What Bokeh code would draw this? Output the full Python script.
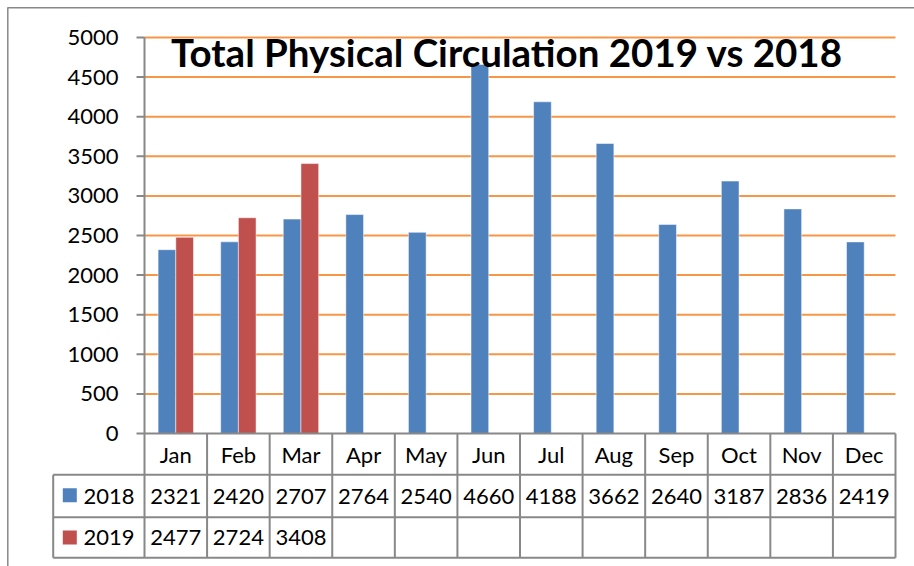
from bokeh.plotting import figure
from bokeh.models import Range1d
from bokeh.core.properties import value
from bokeh.embed import file_html
from bokeh.resources import INLINE

# ---------------- data ----------------
title_text = "Total Physical Circulation 2019 vs 2018"
months = ["Jan", "Feb", "Mar", "Apr", "May", "Jun", "Jul", "Aug", "Sep", "Oct", "Nov", "Dec"]
series_names = ["2018", "2019"]
v2018 = [2321, 2420, 2707, 2764, 2540, 4660, 4188, 3662, 2640, 3187, 2836, 2419]
v2019 = [2477, 2724, 3408]
y_ticks = [0, 500, 1000, 1500, 2000, 2500, 3000, 3500, 4000, 4500, 5000]

# ---------------- styles / layout ----------------
C_BLUE = "#4F81BD"
C_RED = "#C0504D"
C_GRID = "#F79646"
C_LINE = "#888888"
FONT = "Lato"

W, H = 914, 566          # figure size
OX, OY = 0, 0            # page offset of the canvas
AX_L, AX_R = 144, 895    # page x of plot area
Y_ZERO, Y_TOP = 433, 37  # page y of 0 and of top tick
n = len(months)
c = (AX_R - AX_L) / n            # px per category
k = (Y_ZERO - Y_TOP) / y_ticks[-1]  # px per unit


def X(px):
    return (px - AX_L) / c


def Y(py):
    return (Y_ZERO - py) / k


p = figure(width=W, height=H, output_backend="svg", toolbar_location=None,
           x_axis_type=None, y_axis_type=None,
           x_range=Range1d(X(OX), X(OX + W)), y_range=Range1d(Y(OY + H), Y(OY)),
           min_border=0, outline_line_color=None)
p.background_fill_color = "white"
p.border_fill_color = "white"

# chart border (top, left)
p.segment(x0=[X(7), X(7.3)], y0=[Y(7.3), Y(7)],
          x1=[X(OX + W), X(7.3)], y1=[Y(7.3), Y(OY + H)],
          line_color=C_LINE, line_width=1.5)

# horizontal gridlines
gt = y_ticks[1:]
p.segment(x0=[0] * len(gt), y0=gt, x1=[n] * len(gt), y1=gt,
          line_color=C_GRID, line_width=2)

# bars
bw = 17.7 / c
x18 = [i + 0.5 - bw / 2 for i in range(len(v2018))]
x19 = [i + 0.5 + bw / 2 for i in range(len(v2019))]
p.vbar(x=x18, top=v2018, bottom=0, width=bw, fill_color=C_BLUE,
       line_color="white", line_alpha=0.5, line_width=1)
p.vbar(x=x19, top=v2019, bottom=0, width=bw, fill_color=C_RED,
       line_color="white", line_alpha=0.5, line_width=1)

# y axis line, ticks and labels
p.segment(x0=[0], y0=[0], x1=[0], y1=[y_ticks[-1]], line_color=C_LINE, line_width=2)
p.segment(x0=[X(136)] * len(y_ticks), y0=y_ticks, x1=[0] * len(y_ticks), y1=y_ticks,
          line_color=C_LINE, line_width=2)
p.text(x=[X(118)] * len(y_ticks), y=y_ticks, text=[str(t) for t in y_ticks],
       text_align="right", text_baseline="middle", text_font=value(FONT),
       text_font_size="22px", text_color="black")

# data table
r_top, r1, r2, r_bot = 0, Y(474.3), Y(516.7), Y(557.3)
t_left = X(52.7)
p.segment(x0=[0], y0=[0], x1=[n], y1=[0], line_color=C_LINE, line_width=2)
p.segment(x0=[t_left] * 3, y0=[r1, r2, r_bot], x1=[n] * 3, y1=[r1, r2, r_bot],
          line_color=C_LINE, line_width=2)
p.segment(x0=list(range(n + 1)), y0=[r_top] * (n + 1), x1=list(range(n + 1)),
          y1=[r_bot] * (n + 1), line_color=C_LINE, line_width=2)
p.segment(x0=[t_left], y0=[r1], x1=[t_left], y1=[r_bot], line_color=C_LINE, line_width=2)

centers = [i + 0.5 for i in range(n)]
p.text(x=centers, y=[Y(453.5)] * n, text=months, text_align="center",
       text_baseline="middle", text_font=value(FONT), text_font_size="22px",
       text_color="black")
p.text(x=centers, y=[Y(495.5)] * n, text=[str(v) for v in v2018], text_align="center",
       text_baseline="middle", text_font=value(FONT), text_font_size="22px",
       text_color="black")
p.text(x=centers[:len(v2019)], y=[Y(537)] * len(v2019), text=[str(v) for v in v2019],
       text_align="center", text_baseline="middle", text_font=value(FONT),
       text_font_size="22px", text_color="black")

# legend keys in table
p.scatter(x=[X(69.3), X(69.3)], y=[Y(494.7), Y(537)], marker="square", size=14,
          fill_color=[C_BLUE, C_RED], line_color=None)
p.text(x=[X(83), X(83)], y=[Y(495.5), Y(537)], text=series_names, text_align="left",
       text_baseline="middle", text_font=value(FONT), text_font_size="22px",
       text_color="black")

# title
p.text(x=[X(506.5)], y=[Y(51)], text=[title_text], text_align="center",
       text_baseline="alphabetic", text_font=value(FONT), text_font_style="bold",
       text_font_size="38.5px", text_color="black")

open("out.html", "w").write(file_html(p, INLINE))
